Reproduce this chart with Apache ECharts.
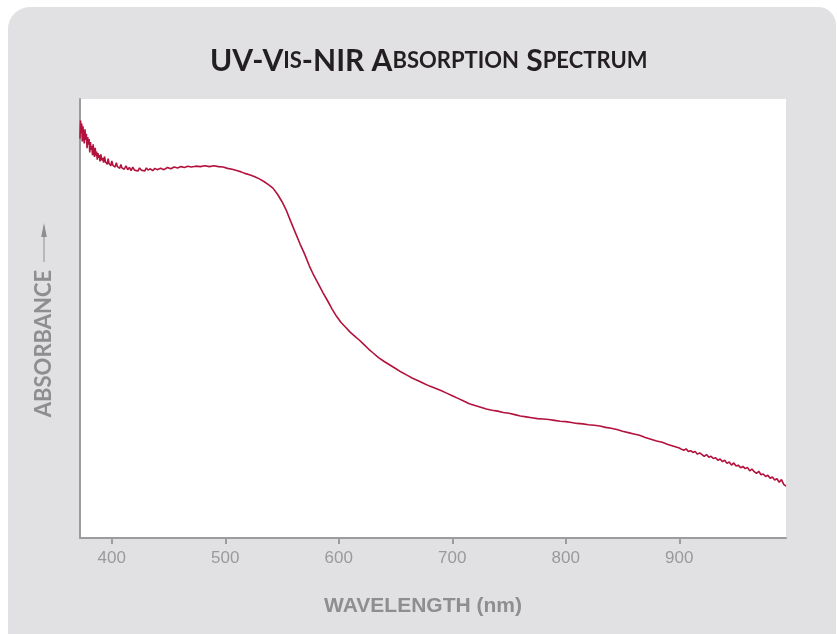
<!DOCTYPE html>
<html>
<head>
<meta charset="utf-8">
<style>
  html, body { margin: 0; padding: 0; background: #ffffff; }
  #chart { width: 837px; height: 634px; }
</style>
<script src="https://cdn.jsdelivr.net/npm/echarts@6/dist/echarts.min.js"></script>
</head>
<body>
<div id="chart"></div>
<script>
// Wavelength (nm)
const wavelengths = [
  372.0,372.5,373.0,373.5,374.0,374.6,375.2,375.8,376.4,377.0,377.6,378.2,378.8,379.4,380.0,380.6,381.2,381.8,382.4,383.0,
  383.6,384.2,384.8,385.4,386.0,386.6,387.2,387.8,388.4,389.0,389.6,390.4,391.2,392.0,392.8,393.6,394.4,395.2,396.0,396.8,
  397.6,398.4,399.2,400,401,402,403,404,405,406,407,408,409,410,411,412.5,414,415.5,417,418.5,420,421.5,423,424.5,426,427.5,
  429,430.5,432,434,436,438,440,443,446,449,452,455,458,461,464,467,470,474,478,482,486,490,494,498,
  502,506,510,514,518,522,526,530,534,538,542,546,550,554,558,562,566,570,574,578,582,586,590,594,598,
  602,606,610,614,618,622,626,630,635,640,645,650,655,660,665,670,675,680,685,690,695,700,705,710,715,720,725,730,735,740,745,
  750,755,760,765,770,775,780,785,790,795,800,805,810,815,820,825,830,835,840,845,850,855,860,865,870,875,880,885,890,895,900,
  902,904,906,908,910,912,914,916,918,920,922,924,926,928,930,932,934,936,938,940,942,944,946,948,950,952,954,956,958,960,
  962,964,966,968,970,972,974,976,978,980,982,984,986,988,990,992,994
];
// Absorbance (arbitrary units)
const absorbance = [
  0.910,0.951,0.922,0.944,0.903,0.938,0.915,0.899,0.931,0.907,0.921,0.888,0.913,0.896,0.909,0.878,0.902,0.884,0.893,0.872,
  0.897,0.876,0.868,0.889,0.871,0.880,0.862,0.877,0.866,0.872,0.858,0.874,0.860,0.866,0.855,0.869,0.857,0.861,0.851,0.864,
  0.853,0.857,0.848,0.859,0.849,0.853,0.845,0.855,0.846,0.849,0.842,0.851,0.843,0.847,0.840,0.848,0.839,0.844,0.837,0.845,0.838,0.842,0.836,0.843,0.838,0.841,
  0.836,0.843,0.838,0.841,0.837,0.842,0.839,0.842,0.839,0.844,0.841,0.845,0.843,0.846,0.844,0.847,0.845,0.847,0.846,0.848,0.846,0.848,0.846,0.845,
  0.842,0.840,0.837,0.834,0.830,0.827,0.823,0.818,0.812,0.805,0.797,0.783,0.766,0.745,0.719,0.694,0.669,0.646,0.620,0.598,0.579,0.559,0.541,0.522,0.505,
  0.491,0.480,0.469,0.460,0.451,0.441,0.431,0.422,0.411,0.402,0.394,0.386,0.378,0.371,0.364,0.358,0.352,0.346,0.341,0.336,0.330,0.324,0.318,0.312,0.306,0.302,0.298,0.294,0.291,0.289,0.286,
  0.284,0.281,0.278,0.276,0.274,0.272,0.271,0.270,0.268,0.266,0.265,0.263,0.261,0.260,0.258,0.257,0.255,0.252,0.250,0.247,0.243,0.240,0.237,0.234,0.229,0.225,0.221,0.218,0.213,0.209,0.205,
  0.202,0.200,0.203,0.197,0.199,0.195,0.197,0.191,0.194,0.190,0.186,0.190,0.184,0.186,0.181,0.183,0.177,0.180,0.174,0.177,0.170,0.173,0.166,0.171,0.164,0.166,0.160,0.163,0.158,0.161,
  0.153,0.157,0.151,0.147,0.152,0.144,0.146,0.140,0.143,0.136,0.139,0.132,0.135,0.127,0.133,0.122,0.118
];
const xTicks = [400, 500, 600, 700, 800, 900];

const seriesData = wavelengths.map((w, i) => [w, absorbance[i]]);

const chart = echarts.init(document.getElementById('chart'), null, { renderer: 'canvas' });
const gray = '#9a9a9c';
const nameGray = '#8e8e90';
const sansFont = "'Liberation Sans', Arial, sans-serif";
const titleFont = "Lato, 'Noto Sans', sans-serif";

chart.setOption({
  backgroundColor: '#ffffff',
  animation: false,
  graphic: [
    {
      type: 'rect', z: -10, silent: true,
      shape: { x: 8, y: 7, width: 828, height: 700, r: [22, 18, 0, 0] },
      style: { fill: '#e1e1e3' }
    },
    {
      type: 'line', silent: true, z: 5,
      shape: { x1: 44, y1: 262, x2: 44, y2: 226 },
      style: { stroke: nameGray, lineWidth: 1 }
    },
    {
      type: 'polygon', silent: true, z: 5,
      shape: { points: [[44, 223], [41.2, 237], [46.8, 237]] },
      style: { fill: nameGray }
    }
  ],
  title: {
    left: 205, top: 41,
    text: '{b|UV-V}{s|IS}{b|-NIR A}{s|BSORPTION}{b| S}{s|PECTRUM}',
    textStyle: {
      rich: {
        b: { fontFamily: titleFont, fontWeight: 'bold', fontSize: 30, color: '#231f20' },
        s: { fontFamily: titleFont, fontWeight: 'bold', fontSize: 22, color: '#231f20' }
      }
    }
  },
  grid: {
    left: 80, right: 51, top: 99, bottom: 96,
    show: true, backgroundColor: '#ffffff', borderWidth: 0
  },
  xAxis: {
    type: 'value', min: 372, max: 994,
    name: '{n|WAVELENGTH (nm)}', nameLocation: 'middle', nameGap: 58,
    nameTextStyle: {
      rich: {
        n: { fontFamily: sansFont, fontWeight: 'bold', fontSize: 21, color: nameGray, padding: [0, 20, 0, 0] }
      }
    },
    axisLine: { show: true, onZero: false, lineStyle: { color: '#9c9c9e', width: 2 } },
    axisTick: { show: true, customValues: xTicks, length: 6, inside: false, lineStyle: { color: '#9c9c9e', width: 2 } },
    axisLabel: { customValues: xTicks, color: gray, fontFamily: sansFont, fontSize: 17, margin: 12 },
    splitLine: { show: false }
  },
  yAxis: {
    type: 'value', min: 0, max: 1,
    name: '{t|ABSORBANCE}', nameLocation: 'middle', nameRotate: 90, nameGap: 25,
    nameTextStyle: {
      rich: {
        t: { fontFamily: titleFont, fontWeight: 'bold', fontSize: 22, color: nameGray, padding: [0, 50, 0, 0] }
      }
    },
    axisLine: { show: true, onZero: false, lineStyle: { color: '#9c9c9e', width: 2 } },
    axisTick: { show: false },
    axisLabel: { show: false },
    splitLine: { show: false }
  },
  series: [{
    type: 'line',
    data: seriesData,
    showSymbol: false,
    smooth: false,
    lineStyle: { color: '#b3123d', width: 1.6 },
    z: 3
  }]
});
</script>
</body>
</html>
